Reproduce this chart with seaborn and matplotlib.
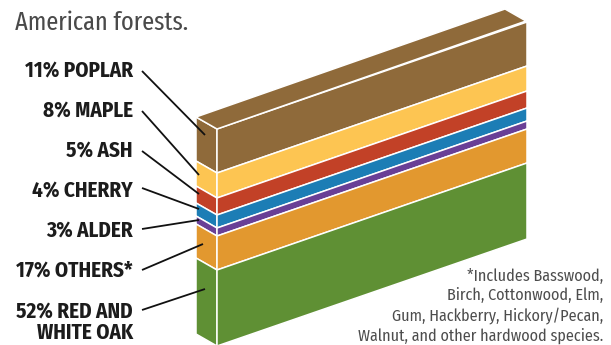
import matplotlib
matplotlib.use("Agg")
import matplotlib.pyplot as plt
from matplotlib.transforms import Affine2D
import pandas as pd
import seaborn as sns

# Species breakdown, top layer first
percents = [11, 8, 5, 4, 3, 17, 52]
species = ["POPLAR", "MAPLE", "ASH", "CHERRY", "ALDER", "OTHERS*", "RED AND\nWHITE OAK"]
# Illustrated layer depths of the block; the artwork is not drawn to percent scale
layer_depths = [44, 25, 17, 13, 8, 34, 76]
layer_colors = ["#8F6A3A", "#FDC552", "#C24127", "#1C7DB5", "#693F96", "#E2982F", "#5F9034"]

faces = ["left", "right", "top"]
footnote = ("*Includes Basswood,\nBirch, Cottonwood, Elm,\n"
            "Gum, Hackberry, Hickory/Pecan,\nWalnut, and other hardwood species.")
title = "American forests."

# Label anchor height and leader-line end for each layer
label_y = [70, 110, 150, 190, 230, 270, 322]
leader_start = [(142, 71), (142, 111), (142, 151), (142, 188), (142, 229), (142, 270), (142, 310)]
leader_end = [(205, 135), (199, 175), (199, 194), (199, 209), (199, 220), (203, 244), (205, 289)]

sns.set_theme(style="white")
label_font = ["Fira Sans Condensed", "Liberation Sans", "DejaVu Sans"]
title_font = ["Fira Sans Extra Condensed", "Liberation Sans", "DejaVu Sans"]
body_font = ["Fira Sans Condensed", "Liberation Sans", "DejaVu Sans"]
plt.rcParams["font.family"] = body_font

fig = plt.figure(figsize=(6.11, 3.45), dpi=100)
ax = fig.add_axes([0, 0, 1, 1])

# Each face is a sheared copy of a bar in category coordinates
face_maps = {
    "left": Affine2D.from_values(21, 12, 0, 1, 196 + 0.5 * 21, 117 + 0.5 * 12),
    "right": Affine2D.from_values(310, -107, 0, 1, 217 - 0.5 * 310, 129 + 0.5 * 107),
    "top": Affine2D.from_values(309, -108, 21, 12, 196 - 1.5 * 309, 117 + 1.5 * 108),
}
edge = dict(edgecolor="white", linewidth=1.1)

stack_top = 0
for depth, color in zip(layer_depths, layer_colors):
    before = len(ax.patches)
    layer = pd.DataFrame({"face": faces[:2], "depth": [depth, depth]})
    sns.barplot(data=layer, x="face", y="depth", order=faces, color=color, saturation=1,
                width=1, bottom=stack_top, ax=ax, errorbar=None, **edge)
    for patch, face in zip(ax.patches[before:], faces[:2]):
        patch.set_transform(face_maps[face] + ax.transData)
        patch.set_clip_on(False)
    stack_top += depth

before = len(ax.patches)
lid = pd.DataFrame({"face": ["top"], "depth": [1]})
sns.barplot(data=lid, x="face", y="depth", order=faces, color=layer_colors[0], saturation=1,
            width=1, ax=ax, errorbar=None, **edge)
for patch in ax.patches[before:]:
    patch.set_transform(face_maps["top"] + ax.transData)
    patch.set_clip_on(False)

ax.set_xlim(0, 611)
ax.set_ylim(345, 0)
ax.axis("off")

for pct, name, y, start, end in zip(percents, species, label_y, leader_start, leader_end):
    ax.text(133, y, f"{pct}% {name}", ha="right", va="center", fontsize=15.2, fontweight="bold",
            family=label_font, color="#1c1c1c", linespacing=1.0)
    ax.plot([start[0], end[0]], [start[1], end[1]], color="#111111", lw=1.3,
            solid_capstyle="butt", zorder=5)

ax.text(15, 30, title, ha="left", va="baseline", fontsize=19, fontweight="regular",
        family=title_font, color="#4a4a4a")
ax.text(603, 306, footnote, ha="right", va="center", fontsize=11.6, fontweight="regular",
        color="#4d4d4d", linespacing=1.28, clip_on=True)

fig.savefig("out.png", dpi=100, facecolor="white")
